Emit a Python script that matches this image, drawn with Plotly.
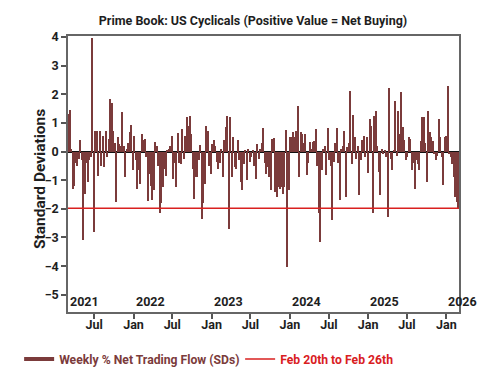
import pandas as pd
import plotly.graph_objects as go

# Weekly % net trading flow, in standard deviations (oldest -> latest)
values = [
    1.3, 1.45, 0.1, -1.3, -1.2, -0.4, -0.5, -0.25, 0.4, -0.3,
    -3.1, -1.5, -0.4, -1.05, -0.3, -0.2, 3.95, -2.8, 0.73, 0.7,
    -0.85, 0.7, -0.5, 0.55, -0.55, 0.7, -0.2, 0.45, 1.83, 1.7,
    0.7, 0.3, -1.75, 0.5, 0.27, 0.2, 1.37,
    0.2, -0.9, 0.1, 0.3, 0.67, 0.93, -0.66, 0.55, -0.3, -1.3,
    -0.66, -1.15, 0.6, 0.4, 0.45, -0.2, -1.72, -0.8, -1.2, -1.7,
    -1.35, 0.33, 0.2, -0.5, -2.15, -1.8, -1.25, -0.6, -0.85, 0.03,
    0.1, 0.2, 0.55, -0.95, -0.4, -1.25, 0.64, -0.4,
    -0.43, 0.8, -0.25, 0.55, 1.2, 0.9, 1.25, 0.6, -0.6, -1.65,
    -0.9, -0.9, -0.3, 0.23, -2.35, -1.8, -1.12, 0.9, 0.73, -0.5,
    -0.8, 0.27, 0.4, 0.2, -0.35, -0.6, -0.4, 0.1, -0.9, 0.4,
    0.85, 1.25, -2.7, 1.2, -0.9, 0.5,
    -0.55, -0.6, 0.4, -0.3, -1.07, -1.35, -0.43, 0.06, -1.0, 0.1,
    -0.37, -0.2, 0.05, -0.5, -0.97, 0.27, -0.25, 0.1, 0.3, 0.81,
    -0.4, -0.78, -0.55, -0.9, -1.35, 0.42, 0.47, -1.4, -1.6, -1.24,
    -1.3, -1.24, -1.5, -1.24, 0.75, -4.04, -1.35, 0.5,
    0.5, 0.67, 0.5, 0.73, 1.6, -0.9, 0.67, 0.61, 0.3, 0.61,
    -0.83, -0.4, 0.32, 0.1, 0.32, 0.38, 0.79, -0.5, -2.14, -3.15,
    -0.66, 0.1, 0.2, -0.83, 0.81, -0.3, -0.5, -2.4, -0.35, 0.3,
    0.81, -0.4, -1.7, 0.1, 0.2, 0.73, -1.6,
    0.15, 0.3, 2.12, -0.43, 1.28, 0.5, -0.25, 0.2, -1.53, -0.3,
    0.4, 0.55, -0.2, 0.5, -0.75, 1.13, 0.9, -2.16, 1.25, 1.42,
    0.2, -0.72, -1.53, 0.1, -0.1, 0.05, -0.2, -2.28, 2.23, -0.25,
    -0.66, 0.05, 1.77, -0.15, 1.42, 0.6, 2.06,
    0.85, 0.4, -0.3, -0.2, 0.52, 0.44, -0.66, -0.4, -1.3, -0.3,
    -0.45, -0.64, 0.38, 1.22, 1.2, 0.3, -1.07, 1.42, 0.67, 0.5,
    0.38, -0.1, -0.3, -0.15, 1.13, 0.5, -0.2, -1.18, 0.52, 0.55,
    2.29, -0.1, -0.2, -0.43, -0.9, -1.6, -1.75, -1.98,
]
last_week_end = "2026-02-26"
dates = pd.date_range(end=last_week_end, periods=len(values), freq="7D")

x_range = ["2021-03-01", "2026-03-01"]
y_ticks = [4, 3, 2, 1, 0, -1, -2, -3, -4, -5]
tick_dates = ["2021-07-01", "2022-01-01", "2022-07-01", "2023-01-01", "2023-07-01",
              "2024-01-01", "2024-07-01", "2025-01-01", "2025-07-01", "2026-01-01"]
tick_text = ["Jul", "Jan", "Jul", "Jan", "Jul", "Jan", "Jul", "Jan", "Jul", "Jan"]
year_labels = ["2021", "2022", "2023", "2024", "2025", "2026"]

title = "Prime Book: US Cyclicals (Positive Value = Net Buying)"
y_title = "Standard Deviations"
series_name = "Weekly % Net Trading Flow (SDs)"
latest_name = "Feb 20th to Feb 26th"

bar_color = "#7b3b3b"
red = "#d9201f"
ink = "#1e1e1e"
FONT = "Roboto, Arial, sans-serif"

fig = go.Figure()
fig.add_trace(go.Bar(x=dates, y=values, marker=dict(color=bar_color, line=dict(width=0)),
                     showlegend=False, hoverinfo="skip"))
fig.add_trace(go.Scatter(x=[None], y=[None], mode="lines",
                         line=dict(color=bar_color, width=4),
                         name=f"<span style='color:{bar_color}'>{series_name}</span>"))
fig.add_trace(go.Scatter(x=x_range, y=[values[-1], values[-1]], mode="lines",
                         line=dict(color=red, width=1.5),
                         name=f"<span style='color:{red}'>{latest_name}</span>"))

r0 = pd.Timestamp(x_range[0])
for yl in year_labels:
    d = max(pd.Timestamp(f"{yl}-01-01"), r0)
    fig.add_annotation(x=d, y=0, xref="x", yref="paper", text=yl, showarrow=False,
                       xanchor="left", yanchor="bottom", xshift=0, yshift=1,
                       font=dict(size=12.5, color=ink, family=FONT, weight="bold"))

# y-axis title as a rotated annotation for precise placement
fig.add_annotation(x=0, y=0.5, xref="paper", yref="paper", text=y_title, showarrow=False,
                   textangle=-90, xanchor="center", yanchor="middle", xshift=-28, yshift=-5,
                   font=dict(size=15.5, color=ink, family=FONT, weight="bold"))

fig.update_layout(
    width=500, height=385,
    margin=dict(l=68, r=41, t=36, b=73),
    paper_bgcolor="white", plot_bgcolor="white",
    font=dict(family=FONT, color=ink),
    title=dict(text=title, x=0.506, xanchor="center", y=0.947, yanchor="middle",
               font=dict(size=12.5, color=ink, family=FONT, weight="bold")),
    bargap=0.0,
    legend=dict(orientation="h", x=-0.125, xanchor="left", y=-0.17, yanchor="middle",
                font=dict(size=12.2, family=FONT, weight="bold"),
                bgcolor="rgba(0,0,0,0)", itemwidth=30,
                entrywidth=176, entrywidthmode="pixels"),
    showlegend=True,
)
fig.update_xaxes(type="date", range=x_range, tickmode="array", tickvals=tick_dates,
                 ticktext=tick_text, ticks="outside", ticklen=5, tickwidth=1.5,
                 tickcolor="#555", showgrid=False, showline=True, linecolor="#666",
                 linewidth=1.5, mirror=True, automargin=False, ticklabelstandoff=-5,
                 tickfont=dict(size=12.5, color=ink, family=FONT, weight="bold"))
fig.update_yaxes(range=[-5.6, 4.03], tickmode="array", tickvals=y_ticks,
                 ticks="outside", ticklen=5, tickwidth=1.5, tickcolor="#555",
                 showgrid=False, showline=True, linecolor="#666", linewidth=1.5,
                 mirror=True, zeroline=True, zerolinecolor="#111", zerolinewidth=1.5,
                 automargin=False,
                 tickfont=dict(size=12.5, color=ink, family=FONT, weight="bold"))

fig.write_html("out.html", config={"displayModeBar": False},
               post_script="document.body.style.margin='0px';")
